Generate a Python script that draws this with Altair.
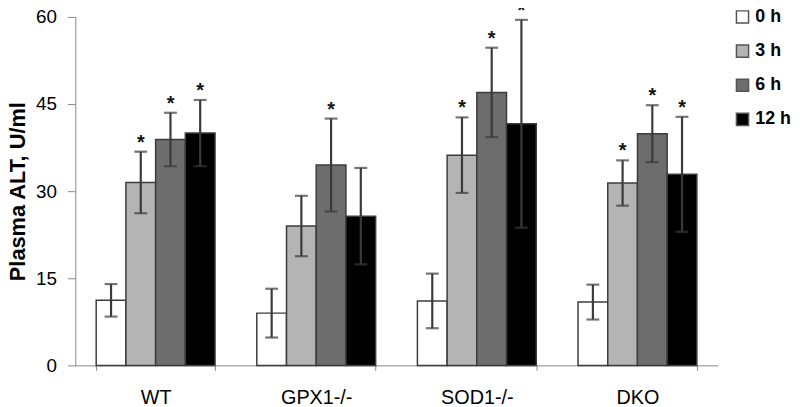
import altair as alt
import pandas as pd

groups = ["WT", "GPX1-/-", "SOD1-/-", "DKO"]
times = ["0 h", "3 h", "6 h", "12 h"]
colors = ["#ffffff", "#b4b4b4", "#6d6d6d", "#000000"]

wt_mean = [11.2, 31.5, 38.9, 40.0]
gpx1_mean = [9.0, 24.0, 34.5, 25.7]
sod1_mean = [11.1, 36.2, 47.0, 41.6]
dko_mean = [10.9, 31.4, 39.9, 32.9]

wt_err = [2.8, 5.3, 4.6, 5.7]
gpx1_err = [4.2, 5.2, 8.0, 8.3]
sod1_err = [4.7, 6.5, 7.7, 17.9]
dko_err = [3.0, 3.9, 4.9, 9.9]

wt_star = [0, 1, 1, 1]
gpx1_star = [0, 0, 1, 0]
sod1_star = [0, 1, 1, 1]
dko_star = [0, 1, 1, 1]

means = [wt_mean, gpx1_mean, sod1_mean, dko_mean]
errs = [wt_err, gpx1_err, sod1_err, dko_err]
stars = [wt_star, gpx1_star, sod1_star, dko_star]

rows = []
for g, m, e, s in zip(groups, means, errs, stars):
    for t, mv, ev, sv in zip(times, m, e, s):
        rows.append({"group": g, "time": t, "mean": mv, "lo": mv - ev,
                     "hi": mv + ev, "star": "*" if sv else ""})
df = pd.DataFrame(rows)

FONT = "Liberation Sans"
H = 352

x_enc = alt.X("group:N", sort=groups, title=None,
              scale=alt.Scale(paddingInner=0.26, paddingOuter=0.13),
              axis=alt.Axis(labelAngle=0, labelFontSize=20, labelFont=FONT,
                            labelColor="#000", labelPadding=18,
                            domainColor="#888", tickColor="#888", tickSize=5,
                            tickBand="extent", grid=False))
xo_enc = alt.XOffset("time:N", sort=times,
                     scale=alt.Scale(paddingInner=0, paddingOuter=0))

y_scale = alt.Scale(domain=[0, 60], nice=False)

base = alt.Chart(df)

bars = base.mark_bar(stroke="#3c3c3c", strokeWidth=1.5).encode(
    x=x_enc,
    xOffset=xo_enc,
    y=alt.Y("mean:Q", scale=y_scale, title="Plasma ALT, U/ml",
            axis=alt.Axis(values=[0, 15, 30, 45, 60], grid=False,
                          labelFontSize=19, labelFont=FONT, labelColor="#000",
                          labelPadding=11, tickSize=8, tickColor="#888",
                          domainColor="#888",
                          titleFont=FONT, titleFontSize=22,
                          titleFontWeight="bold", titleColor="#000",
                          titleAngle=270, titleAlign="center",
                          titleBaseline="alphabetic",
                          titleX=-51, titleY=H / 2)),
    color=alt.Color("time:N", sort=times,
                    scale=alt.Scale(domain=times, range=colors),
                    legend=alt.Legend(title=None, orient="none", legendX=665,
                                      legendY=-9, direction="vertical",
                                      symbolType="square", symbolSize=150,
                                      symbolStrokeColor="#555",
                                      symbolStrokeWidth=1.5,
                                      labelFontSize=18, labelFont=FONT,
                                      labelFontWeight="bold",
                                      labelColor="#000", rowPadding=14.5,
                                      labelOffset=4, padding=0)),
)

rules = base.mark_rule(color="#3a3a3a", strokeWidth=2.2).encode(
    x=alt.X("group:N", sort=groups), xOffset=xo_enc,
    y=alt.Y("lo:Q", scale=y_scale), y2="hi:Q")

caps_hi = base.mark_tick(color="#3a3a3a", thickness=2.2, size=13).encode(
    x=alt.X("group:N", sort=groups), xOffset=xo_enc,
    y=alt.Y("hi:Q", scale=y_scale))

caps_lo = base.mark_tick(color="#3a3a3a", thickness=2.2, size=13).encode(
    x=alt.X("group:N", sort=groups), xOffset=xo_enc,
    y=alt.Y("lo:Q", scale=y_scale))

star_text = base.mark_text(font=FONT, fontSize=20, fontWeight="bold",
                           baseline="alphabetic", dy=-3, color="#111").encode(
    x=alt.X("group:N", sort=groups), xOffset=xo_enc,
    y=alt.Y("hi:Q", scale=y_scale), text="star:N")

chart = alt.layer(bars, rules, caps_hi, caps_lo, star_text).properties(
    width=649, height=H,
    autosize=alt.AutoSizeParams(type="none"),
    padding={"left": 68, "top": 7, "right": 75, "bottom": 40},
    background="white",
).configure_view(stroke=None)

chart.save("out.html", embed_options={"renderer": "svg", "actions": False})
